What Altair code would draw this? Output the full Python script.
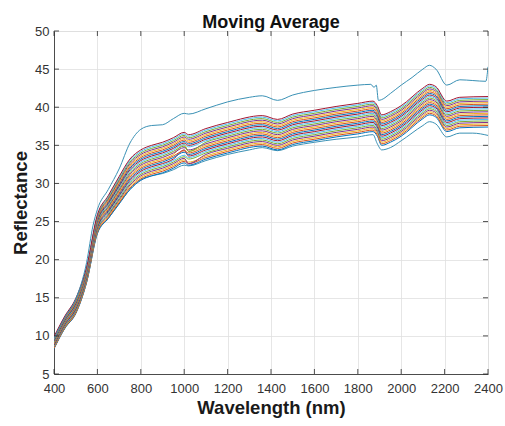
import altair as alt
import pandas as pd

# Wavelength sample points (nm) shared by the band of spectra
wavelength = [400, 450, 500, 550, 600, 650, 700, 750, 800, 850, 900, 950, 1000, 1020,
              1100, 1200, 1360, 1430, 1500, 1600, 1700, 1800, 1870, 1890, 1910, 1950,
              2000, 2100, 2130, 2160, 2210, 2270, 2400]

band_00 = [8.3, 11.0, 12.9, 17.0, 23.5, 25.4, 27.3, 29.2, 30.4, 31.0, 31.4, 32.0, 32.7, 32.4, 33.2, 34.0, 34.9, 34.4, 35.1, 35.6, 36.1, 36.5, 36.8, 36.2, 35.0, 35.4, 36.2, 38.5, 39.0, 38.7, 36.8, 37.3, 37.4]
band_01 = [8.38, 11.08, 13.0, 17.1, 23.62, 25.55, 27.48, 29.4, 30.6, 31.2, 31.6, 32.2, 32.9, 32.6, 33.4, 34.2, 35.1, 34.6, 35.3, 35.8, 36.3, 36.7, 37.0, 36.4, 35.2, 35.6, 36.4, 38.7, 39.2, 38.9, 37.0, 37.5, 37.6]
band_02 = [8.46, 11.16, 13.1, 17.2, 23.74, 25.7, 27.66, 29.6, 30.8, 31.4, 31.8, 32.4, 33.1, 32.8, 33.6, 34.4, 35.3, 34.8, 35.5, 36.0, 36.5, 36.9, 37.2, 36.6, 35.4, 35.8, 36.6, 38.9, 39.4, 39.1, 37.2, 37.7, 37.8]
band_03 = [8.54, 11.24, 13.2, 17.3, 23.86, 25.85, 27.84, 29.8, 31.0, 31.6, 32.0, 32.6, 33.3, 32.6, 33.8, 34.6, 35.5, 35.0, 35.7, 36.2, 36.7, 37.1, 37.4, 36.8, 35.6, 36.0, 36.8, 39.1, 39.6, 39.3, 37.4, 37.9, 38.0]
band_04 = [8.62, 11.32, 13.3, 17.4, 23.98, 26.0, 28.02, 30.0, 31.2, 31.8, 32.2, 32.8, 33.5, 33.2, 34.0, 34.8, 35.7, 35.2, 35.9, 36.4, 36.9, 37.3, 37.6, 37.0, 35.8, 36.2, 37.0, 39.3, 39.8, 39.5, 37.6, 38.1, 38.2]
band_05 = [8.7, 11.4, 13.4, 17.5, 24.1, 26.15, 28.2, 30.2, 31.4, 32.0, 32.4, 33.0, 33.7, 33.4, 34.2, 35.0, 35.9, 35.4, 36.1, 36.6, 37.1, 37.5, 37.8, 37.2, 36.0, 36.4, 37.2, 39.5, 40.0, 39.7, 37.8, 38.3, 38.4]
band_06 = [8.78, 11.48, 13.5, 17.6, 24.22, 26.3, 28.38, 30.4, 31.6, 32.2, 32.6, 33.2, 34.4, 33.6, 34.4, 35.2, 36.1, 35.6, 36.3, 36.8, 37.3, 37.7, 38.0, 37.4, 36.2, 36.6, 37.4, 39.7, 40.2, 39.9, 38.0, 38.5, 38.6]
band_07 = [8.86, 11.56, 13.6, 17.7, 24.34, 26.45, 28.56, 30.6, 31.8, 32.4, 32.8, 33.4, 34.1, 33.8, 34.6, 35.4, 36.3, 35.8, 36.5, 37.0, 37.5, 37.9, 38.2, 37.6, 36.4, 36.8, 37.6, 39.9, 40.4, 40.1, 38.2, 38.7, 38.8]
band_08 = [8.94, 11.64, 13.7, 17.8, 24.46, 26.6, 28.74, 30.8, 32.0, 32.6, 33.0, 33.6, 34.3, 34.0, 34.8, 35.6, 36.5, 36.0, 36.7, 37.2, 37.7, 38.1, 38.4, 37.8, 36.6, 37.0, 37.8, 40.1, 40.6, 40.3, 38.4, 38.9, 39.0]
band_09 = [9.02, 11.72, 13.8, 17.9, 24.58, 26.75, 28.92, 31.0, 32.2, 32.8, 33.2, 33.8, 35.1, 34.2, 35.0, 35.8, 36.7, 36.2, 36.9, 37.4, 37.9, 38.3, 38.6, 38.0, 36.8, 37.2, 38.0, 40.3, 40.8, 40.5, 38.6, 39.1, 39.2]
band_10 = [9.1, 11.8, 13.9, 18.0, 24.7, 26.9, 29.1, 31.2, 32.4, 33.0, 33.4, 34.0, 34.7, 34.4, 35.2, 36.0, 36.9, 36.4, 37.1, 37.6, 38.1, 38.5, 38.8, 38.2, 37.0, 37.4, 38.2, 40.5, 41.0, 40.7, 38.8, 39.3, 39.4]
band_11 = [9.18, 11.88, 14.0, 18.1, 24.82, 27.05, 29.28, 31.4, 32.6, 33.2, 33.6, 34.2, 34.9, 34.2, 35.4, 36.2, 37.1, 36.6, 37.3, 37.8, 38.3, 38.7, 39.0, 38.4, 37.2, 37.6, 38.4, 40.7, 41.2, 40.9, 39.0, 39.5, 39.6]
band_12 = [9.26, 11.96, 14.1, 18.2, 24.94, 27.2, 29.46, 31.6, 32.8, 33.4, 33.8, 34.4, 35.1, 34.8, 35.6, 36.4, 37.3, 36.8, 37.5, 38.0, 38.5, 38.9, 39.2, 38.6, 37.4, 37.8, 38.6, 40.9, 41.4, 41.1, 39.2, 39.7, 39.8]
band_13 = [9.34, 12.04, 14.2, 18.3, 25.06, 27.35, 29.64, 31.8, 33.0, 33.6, 34.0, 34.6, 35.3, 35.0, 35.8, 36.6, 37.5, 37.0, 37.7, 38.2, 38.7, 39.1, 39.4, 38.8, 37.6, 38.0, 38.8, 41.1, 41.6, 41.3, 39.4, 39.9, 40.0]
band_14 = [9.42, 12.12, 14.3, 18.4, 25.18, 27.5, 29.82, 32.0, 33.2, 33.8, 34.2, 34.8, 35.5, 35.2, 36.0, 36.8, 37.7, 37.2, 37.9, 38.4, 38.9, 39.3, 39.6, 39.0, 37.8, 38.2, 39.0, 41.3, 41.8, 41.5, 39.6, 40.1, 40.2]
band_15 = [9.5, 12.2, 14.4, 18.5, 25.3, 27.65, 30.0, 32.2, 33.4, 34.0, 34.4, 35.0, 35.7, 35.4, 36.2, 37.0, 37.9, 37.4, 38.1, 38.6, 39.1, 39.5, 39.8, 39.2, 38.0, 38.4, 39.2, 41.5, 42.0, 41.7, 39.8, 40.3, 40.4]
band_16 = [9.58, 12.28, 14.5, 18.6, 25.42, 27.8, 30.18, 32.4, 33.6, 34.2, 34.6, 35.2, 35.9, 35.6, 36.4, 37.2, 38.1, 37.6, 38.3, 38.8, 39.3, 39.7, 40.0, 39.4, 38.2, 38.6, 39.4, 41.7, 42.2, 41.9, 40.0, 40.5, 40.6]
band_17 = [9.66, 12.36, 14.6, 18.7, 25.54, 27.95, 30.36, 32.6, 33.8, 34.4, 34.8, 35.4, 36.1, 35.8, 36.6, 37.4, 38.3, 37.8, 38.5, 39.0, 39.5, 39.9, 40.2, 39.6, 38.4, 38.8, 39.6, 41.9, 42.4, 42.1, 40.2, 40.7, 40.8]
band_18 = [9.74, 12.44, 14.7, 18.8, 25.66, 28.1, 30.54, 32.8, 34.0, 34.6, 35.0, 35.6, 36.3, 36.0, 36.8, 37.6, 38.5, 38.0, 38.7, 39.2, 39.7, 40.1, 40.4, 39.8, 38.6, 39.0, 39.8, 42.1, 42.6, 42.3, 40.4, 40.9, 41.0]
band_19 = [9.82, 12.52, 14.8, 18.9, 25.78, 28.25, 30.72, 33.0, 34.2, 34.8, 35.2, 35.8, 36.5, 36.2, 37.0, 37.8, 38.7, 38.2, 38.9, 39.4, 39.9, 40.3, 40.6, 40.0, 38.8, 39.2, 40.0, 42.3, 42.8, 42.5, 40.6, 41.1, 41.2]
band_20 = [9.9, 12.6, 14.9, 19.0, 25.9, 28.4, 30.9, 33.2, 34.4, 35.0, 35.4, 36.0, 36.7, 36.4, 37.2, 38.0, 38.9, 38.4, 39.1, 39.6, 40.1, 40.5, 40.8, 40.2, 39.0, 39.4, 40.2, 42.5, 43.0, 42.7, 40.8, 41.3, 41.4]

# Upper outlier spectrum
top_wavelength = [400, 450, 500, 550, 580, 600, 650, 700, 750, 800, 850, 900, 950, 1000, 1020,
                  1100, 1200, 1300, 1360, 1430, 1500, 1600, 1700, 1800, 1860, 1875, 1885, 1895,
                  1910, 1950, 2000, 2050, 2100, 2130, 2160, 2210, 2270, 2330, 2390, 2400]
top_reflectance = [9.6, 12.4, 14.8, 19.6, 24.5, 26.6, 29.2, 31.9, 35.3, 37.1, 37.6, 37.7, 38.5, 39.2, 39.1,
                   39.8, 40.7, 41.3, 41.5, 40.9, 41.6, 42.2, 42.6, 42.9, 43.0, 42.6, 42.9, 40.9,
                   41.0, 41.8, 42.9, 43.9, 45.0, 45.5, 45.0, 42.9, 43.6, 43.5, 43.4, 45.3]

# Lower outlier spectrum
bottom_wavelength = [400, 450, 500, 550, 600, 650, 700, 750, 800, 850, 900, 950, 1000, 1020,
                     1100, 1200, 1300, 1360, 1430, 1500, 1600, 1700, 1800, 1870, 1890, 1910,
                     1950, 2000, 2100, 2130, 2160, 2210, 2270, 2330, 2400]
bottom_reflectance = [8.4, 11.0, 13.0, 17.0, 23.4, 25.4, 27.4, 29.2, 30.5, 31.0, 31.3, 31.8, 32.4, 32.3,
                      33.0, 33.8, 34.4, 34.7, 34.3, 34.9, 35.4, 35.8, 36.1, 36.4, 35.2, 34.4,
                      34.7, 35.6, 37.6, 38.1, 37.8, 36.1, 36.6, 36.6, 36.3]

x_ticks = [400, 600, 800, 1000, 1200, 1400, 1600, 1800, 2000, 2200, 2400]
y_ticks = [5, 10, 15, 20, 25, 30, 35, 40, 45, 50]

matlab_colors = ["#0072BD", "#D95319", "#EDB120", "#7E2F8E", "#77AC30", "#4DBEEE", "#A2142F"]
outlier_color = "#3A91B5"

band = [band_00, band_01, band_02, band_03, band_04, band_05, band_06, band_07, band_08, band_09,
        band_10, band_11, band_12, band_13, band_14, band_15, band_16, band_17, band_18, band_19, band_20]

rows = []
names = []
colors = []
names.append("Low")
colors.append(outlier_color)
for w, v in zip(bottom_wavelength, bottom_reflectance):
    rows.append({"series": "Low", "wavelength": w, "reflectance": v})
for i, vals in enumerate(band):
    name = f"S{i:02d}"
    names.append(name)
    colors.append(matlab_colors[i % 7])
    for w, v in zip(wavelength, vals):
        rows.append({"series": name, "wavelength": w, "reflectance": v})
names.append("High")
colors.append(outlier_color)
for w, v in zip(top_wavelength, top_reflectance):
    rows.append({"series": "High", "wavelength": w, "reflectance": v})

df = pd.DataFrame(rows)
xt_df = pd.DataFrame({"wavelength": x_ticks})
yt_df = pd.DataFrame({"reflectance": y_ticks})

FONT = "Liberation Sans"
AX = "#262626"

x_scale = alt.Scale(domain=[400, 2400], nice=False, zero=False)
y_scale = alt.Scale(domain=[5, 50], nice=False, zero=False)

x_axis = alt.Axis(values=x_ticks, format="d", title="Wavelength (nm)",
                  grid=True, gridColor="#e0e0e0", gridWidth=0.8,
                  ticks=False, labelPadding=8, labelFlush=False,
                  labelFont=FONT, labelFontSize=13, labelColor="#333333",
                  domainColor=AX, domainWidth=0.8,
                  titleFont=FONT, titleFontSize=18.5, titleFontWeight="bold",
                  titleColor="#1a1a1a", titleBaseline="alphabetic", titleY=39.5)
y_axis = alt.Axis(values=y_ticks, title="Reflectance",
                  grid=True, gridColor="#e0e0e0", gridWidth=0.8,
                  ticks=False, labelPadding=5, labelFlush=False,
                  labelFont=FONT, labelFontSize=13, labelColor="#333333",
                  domainColor=AX, domainWidth=0.8,
                  titleFont=FONT, titleFontSize=18.5, titleFontWeight="bold",
                  titleColor="#1a1a1a", titleBaseline="alphabetic", titleX=-28)

lines = alt.Chart(df).mark_line(strokeWidth=1, interpolate="monotone", clip=True).encode(
    x=alt.X("wavelength:Q", scale=x_scale, axis=x_axis),
    y=alt.Y("reflectance:Q", scale=y_scale, axis=y_axis),
    color=alt.Color("series:N", scale=alt.Scale(domain=names, range=colors), legend=None),
)

# MATLAB-style inward ticks on all four sides
xt_bottom = alt.Chart(xt_df).mark_rule(color=AX, strokeWidth=0.8).encode(
    x=alt.X("wavelength:Q", scale=x_scale, axis=x_axis),
    y=alt.value(343), y2=alt.value(338))
xt_top = alt.Chart(xt_df).mark_rule(color=AX, strokeWidth=0.8).encode(
    x=alt.X("wavelength:Q", scale=x_scale, axis=x_axis),
    y=alt.value(0), y2=alt.value(5))
yt_left = alt.Chart(yt_df).mark_rule(color=AX, strokeWidth=0.8).encode(
    y=alt.Y("reflectance:Q", scale=y_scale, axis=y_axis),
    x=alt.value(0), x2=alt.value(5))
yt_right = alt.Chart(yt_df).mark_rule(color=AX, strokeWidth=0.8).encode(
    y=alt.Y("reflectance:Q", scale=y_scale, axis=y_axis),
    x=alt.value(434), x2=alt.value(429))

chart = alt.layer(lines, xt_bottom, xt_top, yt_left, yt_right).properties(
    width=434,
    height=343,
    autosize=alt.AutoSizeParams(type="none"),
    padding={"left": 54, "top": 31, "right": 17, "bottom": 52},
    title=alt.TitleParams("Moving Average", font=FONT, fontSize=18, fontWeight="bold",
                          color="#111111", anchor="middle", frame="group",
                          baseline="alphabetic", offset=5, dy=26),
).configure_view(
    stroke=AX, strokeWidth=0.8
).configure(background="white")

chart.save("out.html", embed_options={"renderer": "svg", "actions": False})
